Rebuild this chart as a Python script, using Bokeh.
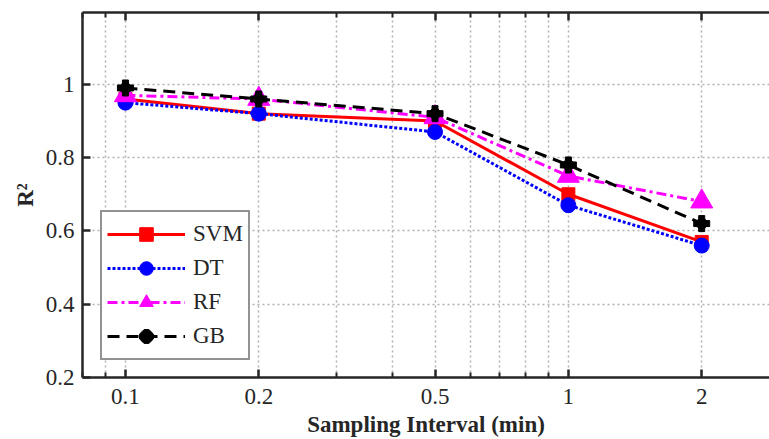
from bokeh.plotting import figure
from bokeh.models import (FixedTicker, LogAxis, CustomJSTickFormatter, Legend, LegendItem, Range1d)
from bokeh.embed import file_html
from bokeh.resources import INLINE

intervals = [0.1, 0.2, 0.5, 1, 2]
svm = [0.96, 0.92, 0.90, 0.70, 0.57]
dt = [0.95, 0.92, 0.87, 0.67, 0.56]
rf = [0.97, 0.96, 0.91, 0.75, 0.68]
gb = [0.99, 0.96, 0.92, 0.78, 0.62]

x_ticks = [0.1, 0.2, 0.5, 1, 2]
x_minor = [0.08, 0.09, 0.3, 0.4, 0.6, 0.7, 0.8, 0.9, 3]
y_ticks = [0.2, 0.4, 0.6, 0.8, 1]

FONT = "Liberation Serif"
AX = "#262626"

p = figure(width=769, height=439, x_axis_type="log", output_backend="svg",
           toolbar_location=None, x_range=Range1d(0.08, 2.845), y_range=Range1d(0.2, 1.196),
           min_border_left=82, min_border_right=0, min_border_top=12, min_border_bottom=62)
p.outline_line_color = None
p.background_fill_color = "white"

fmt = CustomJSTickFormatter(code="return tick.toString();")
xt = FixedTicker(ticks=x_ticks, minor_ticks=x_minor)
yt = FixedTicker(ticks=y_ticks)

xa = p.xaxis[0]
xa.ticker = xt
xa.formatter = fmt
xa.axis_label = "Sampling Interval (min)"
ya = p.yaxis[0]
ya.ticker = yt
ya.formatter = fmt
ya.axis_label = "R²"

for ax in (xa, ya):
    ax.axis_line_color = AX
    ax.axis_line_width = 2.5
    ax.major_tick_line_color = AX
    ax.major_tick_line_width = 2.5
    ax.minor_tick_line_color = AX
    ax.minor_tick_line_width = 2
    ax.major_tick_in = 8
    ax.major_tick_out = 0
    ax.minor_tick_in = 5
    ax.minor_tick_out = 0
    ax.major_label_text_font = FONT
    ax.major_label_text_font_size = "23px"
    ax.major_label_text_color = AX
    ax.axis_label_text_font = FONT
    ax.axis_label_text_font_size = "23px"
    ax.axis_label_text_font_style = "bold"
    ax.axis_label_text_color = AX
xa.major_label_standoff = 11
xa.axis_label_standoff = 5
ya.major_label_standoff = 8
ya.axis_label_standoff = 5
ya.minor_tick_line_color = None

top = LogAxis(ticker=xt, formatter=fmt, axis_line_color=AX, axis_line_width=2.5,
              major_tick_line_color=AX, major_tick_line_width=2.5,
              minor_tick_line_color=AX, minor_tick_line_width=2,
              major_tick_in=8, major_tick_out=0, minor_tick_in=5, minor_tick_out=0,
              major_label_text_color=None, major_label_standoff=0)
p.add_layout(top, "above")

GRID = "#b0b0b0"
p.xgrid.grid_line_color = GRID
p.xgrid.grid_line_dash = "2 3"
p.xgrid.grid_line_width = 1.5
p.xgrid.minor_grid_line_color = GRID
p.xgrid.minor_grid_line_dash = "2 3"
p.xgrid.minor_grid_line_width = 1.5
p.ygrid.grid_line_color = GRID
p.ygrid.grid_line_dash = "2 3"
p.ygrid.grid_line_width = 1.5

items = []
l1 = p.line(intervals, svm, line_color="#ff0000", line_width=3)
m1 = p.scatter(intervals, svm, marker="square", size=13, fill_color="#ff0000", line_color="#ff0000")
items.append(LegendItem(label="SVM", renderers=[l1, m1]))

l2 = p.line(intervals, dt, line_color="#0000ff", line_width=3, line_dash="3 2")
m2 = p.scatter(intervals, dt, marker="circle", size=15, fill_color="#0000ff", line_color="#0000ff")
items.append(LegendItem(label="DT", renderers=[l2, m2]))

l3 = p.line(intervals, rf, line_color="#ff00ff", line_width=3, line_dash="10 4 3 4")
m3 = p.scatter(intervals, rf, marker="triangle", size=22, fill_color="#ff00ff", line_color="#ff00ff")
items.append(LegendItem(label="RF", renderers=[l3, m3]))

l4 = p.line(intervals, gb, line_color="black", line_width=3, line_dash="12 7")
m4 = p.scatter(intervals, gb, marker="plus", size=16, fill_color="black", line_color="black")
m4b = p.scatter(intervals, gb, marker="circle", size=11, fill_color="black", line_color="black")
items.append(LegendItem(label="GB", renderers=[l4, m4, m4b]))

legend = Legend(items=items, location=(18, 17), label_text_font=FONT, label_text_font_size="23px",
                label_text_color=AX, glyph_width=78, glyph_height=34, label_height=34,
                spacing=-8, padding=5, margin=0, label_standoff=8,
                border_line_color=AX, border_line_width=2, background_fill_color="white",
                background_fill_alpha=1)
p.add_layout(legend, "center")

open("out.html", "w").write(file_html(p, INLINE))
